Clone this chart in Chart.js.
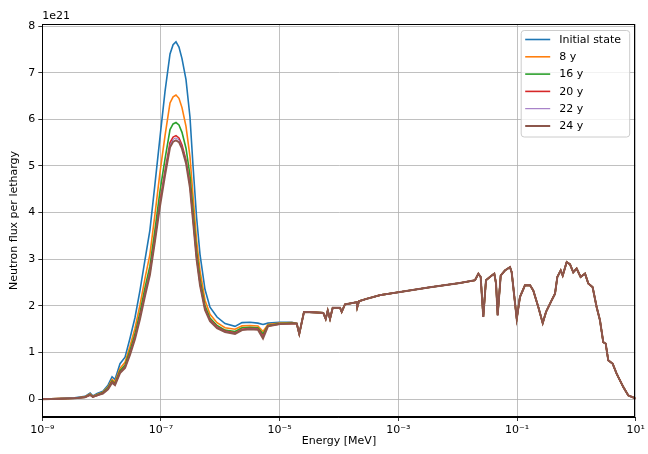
<!DOCTYPE html>
<html>
<head>
<meta charset="utf-8">
<script src="https://cdn.jsdelivr.net/npm/chart.js@4.4.0/dist/chart.umd.min.js"></script>
<style>
  html, body { margin: 0; padding: 0; background: #fff; }
  canvas { display: block; }
</style>
</head>
<body>
<canvas id="flux" width="648" height="454"></canvas>
<script>
// thermal / epithermal range, where the burnup states differ [MeV]
const energyLow = [1e-9, 2.0e-9, 3.5e-9, 5.25e-9, 6.4e-9, 7.1e-9, 8.4e-9, 1.05e-8, 1.28e-8, 1.5e-8,
  1.68e-8, 2.04e-8, 2.48e-8, 3.0e-8, 3.65e-8, 4.43e-8, 5.4e-8, 6.5e-8, 7.9e-8, 9.6e-8,
  1.17e-7, 1.42e-7, 1.6e-7, 1.79e-7, 2.01e-7, 2.26e-7, 2.64e-7, 3.08e-7, 3.47e-7, 3.98e-7,
  4.55e-7, 5.52e-7, 6.7e-7, 8.8e-7, 1.2e-6, 1.77e-6, 2.32e-6, 3.16e-6, 4.3e-6, 5.24e-6,
  6.35e-6, 1.01e-5, 1.61e-5];

// flux per lethargy in units of 1e21
const fluxInitial = [0, .01, .03, .06, .13, .07, .12, .17, .30, .48,
  .42, .76, .90, 1.30, 1.75, 2.33, 3.0, 3.62, 4.6, 5.6,
  6.6, 7.4, 7.6, 7.66, 7.55, 7.3, 6.85, 6.05, 5.0, 3.9,
  3.1, 2.35, 1.97, 1.76, 1.62, 1.56, 1.64, 1.65, 1.63, 1.60,
  1.63, 1.65, 1.65];
const flux8y = [0, .01, .02, .05, .11, .06, .10, .15, .26, .42,
  .37, .66, .79, 1.13, 1.52, 2.02, 2.6, 3.1, 3.95, 4.85,
  5.65, 6.35, 6.48, 6.52, 6.45, 6.25, 5.85, 5.2, 4.35, 3.4,
  2.75, 2.12, 1.82, 1.64, 1.53, 1.50, 1.57, 1.58, 1.57, 1.45,
  1.60, 1.63, 1.64];
const flux16y = [0, .01, .02, .04, .10, .05, .09, .14, .24, .39,
  .34, .61, .73, 1.04, 1.40, 1.86, 2.4, 2.85, 3.62, 4.45,
  5.15, 5.78, 5.9, 5.93, 5.88, 5.72, 5.38, 4.8, 4.05, 3.18,
  2.58, 2.0, 1.74, 1.58, 1.48, 1.45, 1.53, 1.54, 1.53, 1.40,
  1.58, 1.62, 1.63];
const flux20y = [0, .01, .02, .04, .09, .05, .08, .13, .22, .37,
  .32, .58, .69, .98, 1.33, 1.77, 2.28, 2.72, 3.45, 4.22,
  4.9, 5.5, 5.62, 5.65, 5.6, 5.45, 5.13, 4.6, 3.88, 3.05,
  2.48, 1.94, 1.70, 1.55, 1.46, 1.42, 1.50, 1.52, 1.51, 1.35,
  1.57, 1.61, 1.62];
const flux22y = [0, .01, .02, .04, .09, .05, .08, .12, .22, .36,
  .31, .57, .68, .97, 1.31, 1.75, 2.25, 2.7, 3.42, 4.18,
  4.86, 5.45, 5.57, 5.60, 5.56, 5.41, 5.1, 4.57, 3.85, 3.03,
  2.46, 1.93, 1.69, 1.54, 1.45, 1.41, 1.49, 1.51, 1.50, 1.33,
  1.57, 1.61, 1.62];
const flux24y = [0, .01, .02, .04, .09, .05, .08, .12, .21, .35,
  .30, .56, .67, .95, 1.29, 1.72, 2.22, 2.66, 3.38, 4.13,
  4.8, 5.4, 5.52, 5.55, 5.51, 5.37, 5.06, 4.53, 3.82, 3.0,
  2.44, 1.91, 1.67, 1.52, 1.44, 1.40, 1.48, 1.50, 1.49, 1.30,
  1.56, 1.61, 1.62];

// resonance and fast range, identical for every state
const energyHigh = [1.94e-5, 2.14e-5, 2.57e-5, 3.94e-5, 5.43e-5, 5.97e-5, 6.46e-5, 7.05e-5, 7.83e-5, 1.04e-4,
  1.11e-4, 1.26e-4, 1.99e-4, 2.03e-4, 2.17e-4, 2.93e-4, 3.79e-4, 4.91e-4, 1.0e-3, 3.42e-3,
  1.09e-2, 1.96e-2, 2.23e-2, 2.44e-2, 2.70e-2, 3.0e-2, 3.74e-2, 4.14e-2, 4.43e-2, 4.72e-2,
  5.31e-2, 6.27e-2, 7.62e-2, 8.13e-2, 9.89e-2, 0.112, 0.136, 0.166, 0.188, 0.229,
  0.271, 0.308, 0.384, 0.437, 0.478, 0.545, 0.589, 0.687, 0.782, 0.887,
  1.01, 1.18, 1.40, 1.59, 1.88, 2.20, 2.50, 2.84, 3.12, 3.45,
  4.09, 4.79, 6.18, 7.50, 9.35, 10];
const fluxHigh = [1.62, 1.40, 1.87, 1.86, 1.85, 1.72, 1.90, 1.72, 1.96, 1.96,
  1.87, 2.03, 2.08, 1.97, 2.10, 2.15, 2.19, 2.23, 2.29, 2.40,
  2.49, 2.55, 2.69, 2.62, 1.76, 2.55, 2.65, 2.69, 2.48, 1.80,
  2.65, 2.76, 2.83, 2.72, 1.72, 2.19, 2.44, 2.44, 2.33, 1.97,
  1.63, 1.87, 2.12, 2.26, 2.62, 2.76, 2.65, 2.94, 2.89, 2.72,
  2.80, 2.62, 2.69, 2.48, 2.40, 1.97, 1.69, 1.22, 1.19, 0.83,
  0.76, 0.54, 0.26, 0.08, 0.03, 0.01];

const seriesLabels = ['Initial state', '8 y', '16 y', '20 y', '22 y', '24 y'];
const seriesLow = [fluxInitial, flux8y, flux16y, flux20y, flux22y, flux24y];

const xTicks = [1e-9, 1e-7, 1e-5, 1e-3, 1e-1, 1e1];
const xTickLabels = ['10⁻⁹', '10⁻⁷', '10⁻⁵', '10⁻³', '10⁻¹', '10¹'];
const yTicks = [0, 1, 2, 3, 4, 5, 6, 7, 8];

const colors = ['#1f77b4', '#ff7f0e', '#2ca02c', '#d62728', '#9467bd', '#8c564b'];
const widths = [1.6, 1.6, 1.6, 1.6, 1.0, 2.0];
const FONT = { family: '"DejaVu Sans", sans-serif', size: 11 };

const energy = energyLow.concat(energyHigh);
const datasets = seriesLabels.map((label, i) => {
  const vals = seriesLow[i].concat(fluxHigh);
  return {
    label,
    data: energy.map((e, k) => ({ x: e, y: vals[k] })),
    borderColor: colors[i],
    borderWidth: widths[i],
    pointRadius: 0,
    tension: 0,
    fill: false,
    order: seriesLabels.length - 1 - i   // last state on top
  };
});

// closed frame, offset label and legend box inside the axes
const decorations = {
  id: 'decorations',
  afterDatasetsDraw(chart) {
    const { ctx, chartArea: a } = chart;
    ctx.save();
    ctx.strokeStyle = '#000';
    ctx.lineWidth = 1;
    ctx.strokeRect(Math.round(a.left) + 0.5, Math.round(a.top) + 0.5,
      Math.round(a.right - a.left) - 1, Math.round(a.bottom - a.top) - 1);

    ctx.fillStyle = '#000';
    ctx.font = FONT.size + 'px ' + FONT.family;
    ctx.textBaseline = 'bottom';
    ctx.textAlign = 'left';
    ctx.fillText('1e21', a.left, a.top - 2);

    const bx = a.right - 115, by = a.top + 6, bw = 108.5, bh = 106.5;
    ctx.beginPath();
    ctx.roundRect(bx + 0.5, by + 0.5, bw, bh, 3);
    ctx.fillStyle = 'rgba(255,255,255,0.8)';
    ctx.fill();
    ctx.strokeStyle = '#cccccc';
    ctx.lineWidth = 1;
    ctx.stroke();

    ctx.textBaseline = 'middle';
    seriesLabels.forEach((label, i) => {
      const y = by + 9.5 + i * 17.3;
      ctx.beginPath();
      ctx.moveTo(bx + 4.5, y);
      ctx.lineTo(bx + 29.5, y);
      ctx.strokeStyle = colors[i];
      ctx.lineWidth = widths[i];
      ctx.stroke();
      ctx.fillStyle = '#000';
      ctx.fillText(label, bx + 38.5, y + 0.5);
    });
    ctx.restore();
  }
};

new Chart(document.getElementById('flux'), {
  type: 'line',
  data: { datasets },
  plugins: [decorations],
  options: {
    responsive: false,
    animation: false,
    devicePixelRatio: 1,
    parsing: true,
    layout: { padding: { top: 24, right: 12.3, bottom: 0, left: 0 } },
    plugins: { legend: { display: false }, tooltip: { enabled: false } },
    scales: {
      x: {
        type: 'logarithmic',
        min: 1e-9,
        max: 10,
        afterBuildTicks: s => { s.ticks = xTicks.map(v => ({ value: v })); },
        afterFit: s => { s.height = 37; },
        ticks: {
          callback: (v, i) => xTickLabels[i],
          font: FONT, color: '#000', padding: 3,
          maxRotation: 0, autoSkip: false
        },
        grid: { color: '#b0b0b0', lineWidth: 0.8, tickLength: 4, tickColor: '#000' },
        border: { color: '#000', width: 1 },
        title: { display: true, text: 'Energy [MeV]', font: FONT, color: '#000',
                 padding: { top: 0, bottom: 6 } }
      },
      y: {
        type: 'linear',
        min: -0.383,
        max: 8.043,
        afterBuildTicks: s => { s.ticks = yTicks.map(v => ({ value: v })); },
        afterFit: s => { s.width = 42.3; },
        ticks: { font: FONT, color: '#000', padding: 3 },
        grid: { color: '#b0b0b0', lineWidth: 0.8, tickLength: 4, tickColor: '#000' },
        border: { color: '#000', width: 1 },
        title: { display: true, text: 'Neutron flux per lethargy', font: FONT, color: '#000',
                 padding: { top: 8, bottom: 0 } }
      }
    }
  }
});
</script>
</body>
</html>
